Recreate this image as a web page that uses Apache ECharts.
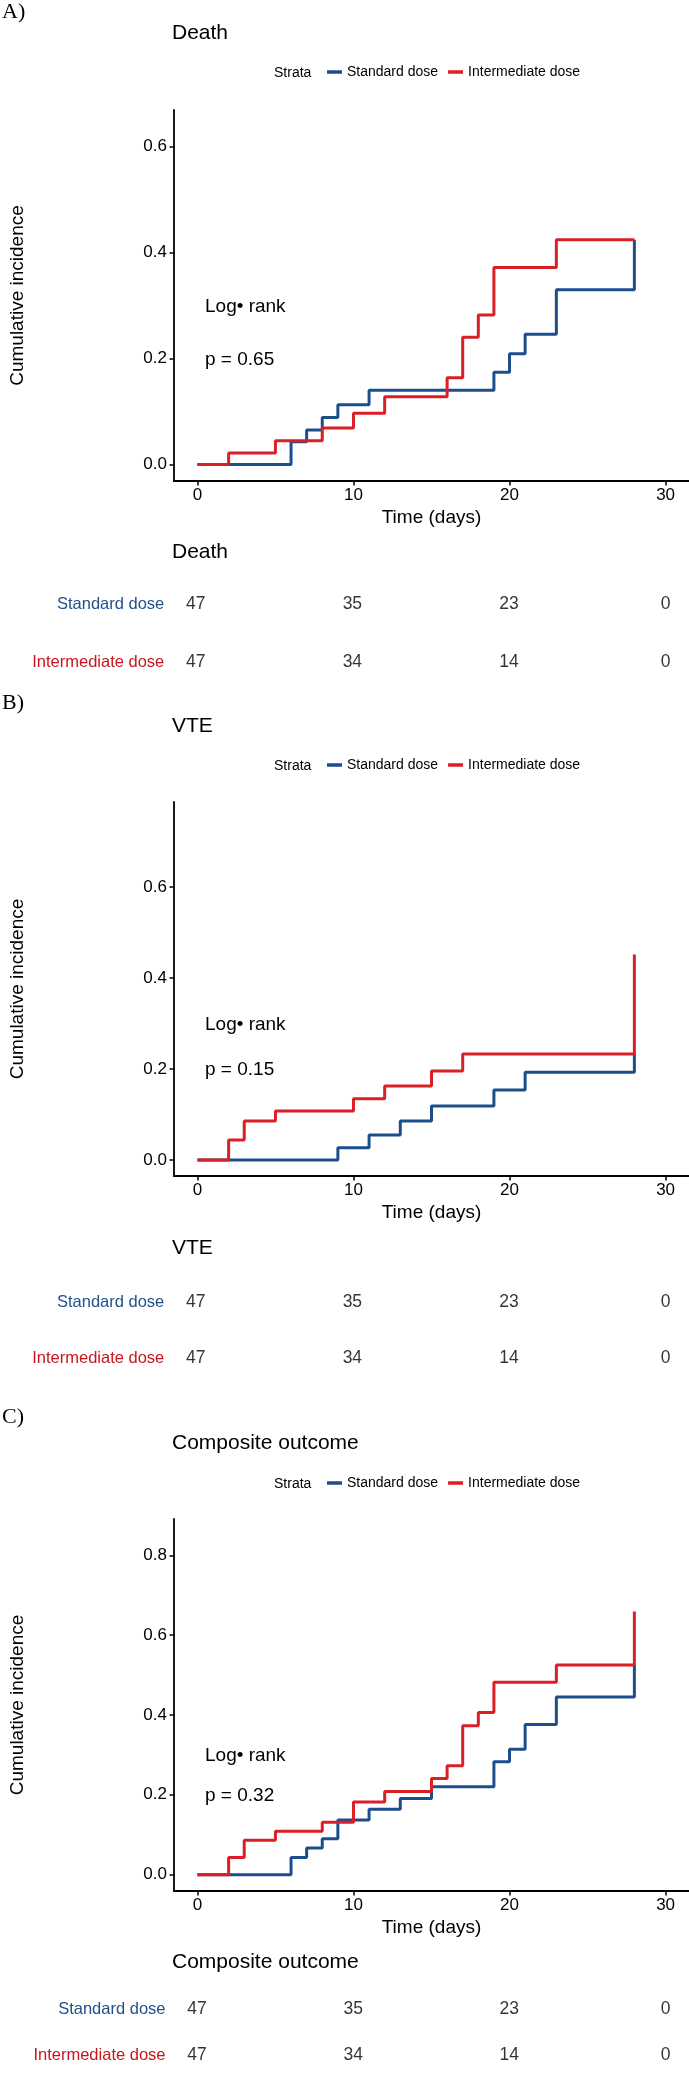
<!DOCTYPE html>
<html>
<head>
<meta charset="utf-8">
<script src="https://cdn.jsdelivr.net/npm/echarts@6/dist/echarts.min.js"></script>
<style>
html,body{margin:0;padding:0;background:#fff;}
#chart{width:689px;height:2078px;}
</style>
</head>
<body>
<div id="chart"></div>
<script>
// ---------- data ----------
const seriesNames = ['Standard dose', 'Intermediate dose'];
const xTicks = [0, 10, 20, 30];
const riskTimes = [0, 10, 20, 30];
const riskStandard = [47, 35, 23, 0];
const riskIntermediate = [47, 34, 14, 0];

// A) Death
const deathStdTime = [0, 6, 7, 8, 9, 11, 19, 20, 21, 23, 28];
const deathStdCI   = [0, 0.043, 0.065, 0.089, 0.113, 0.140, 0.174, 0.209, 0.246, 0.330, 0.424];
const deathIntTime = [0, 2, 5, 8, 10, 12, 16, 17, 18, 19, 23, 28];
const deathIntCI   = [0, 0.022, 0.045, 0.069, 0.097, 0.128, 0.164, 0.240, 0.282, 0.372, 0.424, 0.424];
const deathYTicks  = [0, 0.2, 0.4, 0.6];
const deathP = 'p = 0.65';

// B) VTE
const vteStdTime = [0, 9, 11, 13, 15, 19, 21, 28];
const vteStdCI   = [0, 0.027, 0.055, 0.086, 0.119, 0.154, 0.193, 0.233];
const vteIntTime = [0, 2, 3, 5, 10, 12, 15, 17, 28];
const vteIntCI   = [0, 0.044, 0.086, 0.108, 0.135, 0.163, 0.196, 0.233, 0.452];
const vteYTicks  = [0, 0.2, 0.4, 0.6];
const vteP = 'p = 0.15';

// C) Composite outcome
const compStdTime = [0, 6, 7, 8, 9, 11, 13, 15, 19, 20, 21, 23, 28];
const compStdCI   = [0, 0.043, 0.067, 0.090, 0.137, 0.164, 0.191, 0.220, 0.283, 0.314, 0.376, 0.445, 0.525];
const compIntTime = [0, 2, 3, 5, 8, 10, 12, 15, 16, 17, 18, 19, 23, 28];
const compIntCI   = [0, 0.043, 0.086, 0.109, 0.131, 0.182, 0.208, 0.241, 0.273, 0.373, 0.406, 0.482, 0.525, 0.659];
const compYTicks  = [0, 0.2, 0.4, 0.6, 0.8];
const compP = 'p = 0.32';

// ---------- layout / style ----------
const SANS = "'Liberation Sans', Arial, Helvetica, sans-serif";
const SERIF = "'Liberation Serif', 'Times New Roman', serif";
const BLUE = '#1D4E8C';
const RED = '#DA1F27';
const BLUE_TXT = '#22518C';
const RED_TXT = '#C8161E';

const panels = [
  { letter: 'A)', title: 'Death', std: [deathStdTime, deathStdCI], int: [deathIntTime, deathIntCI], yTicks: deathYTicks, p: deathP,
    L: { letterY: 12, titleY: 33, legendY: 73, top: 110, bottom: 481, yMin: -0.031, yMax: 0.669, left: 172.3, width: 517,
         lrY: 307, pY: 360, riskTitleY: 552, row1: 604, row2: 662 } },
  { letter: 'B)', title: 'VTE', std: [vteStdTime, vteStdCI], int: [vteIntTime, vteIntCI], yTicks: vteYTicks, p: vteP,
    L: { letterY: 703, titleY: 726, legendY: 766, top: 802, bottom: 1176, yMin: -0.035, yMax: 0.787, left: 172.3, width: 517,
         lrY: 1025, pY: 1070, riskTitleY: 1248, row1: 1302, row2: 1358 } },
  { letter: 'C)', title: 'Composite outcome', std: [compStdTime, compStdCI], int: [compIntTime, compIntCI], yTicks: compYTicks, p: compP,
    L: { letterY: 1417, titleY: 1443, legendY: 1484, top: 1519, bottom: 1891, yMin: -0.041, yMax: 0.891, left: 173.5, width: 516,
         lrY: 1756, pY: 1796, riskTitleY: 1962, row1: 2015, row2: 2072 } }
];

const grid = [], xAxis = [], yAxis = [], series = [], legend = [], graphic = [];

function txt(text, x, y, font, fill, align) {
  return { type: 'text', x: x, y: y, silent: true,
    style: { text: text, font: font, fill: fill || '#000', align: align || 'left', verticalAlign: 'middle',
             textAlign: align || 'left', textVerticalAlign: 'middle' } };
}

panels.forEach((P, k) => {
  const L = P.L;
  const gi = k * 2, ri = k * 2 + 1;
  grid.push({ left: L.left, top: L.top, width: L.width, height: L.bottom - L.top, containLabel: false });
  const gap = L.row2 - L.row1;
  grid.push({ left: L.left, top: L.row1 - gap / 2, width: L.width, height: gap * 2, containLabel: false });

  xAxis.push({
    type: 'value', gridIndex: gi, min: -1.5, max: 31.5,
    axisLine: { show: true, onZero: false, lineStyle: { color: '#000', width: 1.8 } },
    axisTick: { show: true, length: 4.5, customValues: xTicks, lineStyle: { color: '#000', width: 1.5 } },
    axisLabel: { customValues: xTicks, color: '#000', fontSize: 17, fontFamily: SANS, margin: 6 },
    splitLine: { show: false },
    name: 'Time (days)', nameLocation: 'middle', nameGap: 27,
    nameTextStyle: { color: '#000', fontSize: 19, fontFamily: SANS }
  });
  yAxis.push({
    type: 'value', gridIndex: gi, min: L.yMin, max: L.yMax,
    axisLine: { show: true, onZero: false, lineStyle: { color: '#000', width: 1.8 } },
    axisTick: { show: true, length: 4.5, customValues: P.yTicks, lineStyle: { color: '#000', width: 1.5 } },
    axisLabel: { customValues: P.yTicks, color: '#000', fontSize: 17, fontFamily: SANS, margin: 7,
                 formatter: v => Number(v).toFixed(1) },
    splitLine: { show: false },
    name: 'Cumulative incidence', nameLocation: 'middle', nameGap: 147, nameRotate: 90,
    nameTextStyle: { color: '#000', fontSize: 19, fontFamily: SANS }
  });
  xAxis.push({ type: 'value', gridIndex: ri, min: -1.5, max: 31.5, show: false });
  yAxis.push({
    type: 'category', gridIndex: ri, data: seriesNames, inverse: true,
    axisLine: { show: false }, axisTick: { show: false }, splitLine: { show: false },
    axisLabel: { fontSize: 16.5, fontFamily: SANS, margin: 8,
                 color: (v) => v === 'Standard dose' ? BLUE_TXT : RED_TXT }
  });

  series.push({
    name: 'Standard dose', type: 'line', step: 'end', xAxisIndex: gi, yAxisIndex: gi,
    symbol: 'none', silent: true,
    itemStyle: { color: BLUE }, lineStyle: { color: BLUE, width: 3 },
    data: P.std[0].map((t, i) => [t, P.std[1][i]])
  });
  series.push({
    name: 'Intermediate dose', type: 'line', step: 'end', xAxisIndex: gi, yAxisIndex: gi,
    symbol: 'none', silent: true,
    itemStyle: { color: RED }, lineStyle: { color: RED, width: 3 },
    data: P.int[0].map((t, i) => [t, P.int[1][i]])
  });
  const riskLabel = { show: true, position: 'inside', color: '#000', fontSize: 17.5, fontFamily: SANS,
                      formatter: p => String(p.value[2]) };
  series.push({
    name: 'risk-std-' + k, type: 'scatter', xAxisIndex: ri, yAxisIndex: ri, symbolSize: 1,
    itemStyle: { color: 'rgba(0,0,0,0)' }, label: riskLabel, silent: true,
    data: riskTimes.map((t, i) => [t, 'Standard dose', riskStandard[i]])
  });
  series.push({
    name: 'risk-int-' + k, type: 'scatter', xAxisIndex: ri, yAxisIndex: ri, symbolSize: 1,
    itemStyle: { color: 'rgba(0,0,0,0)' }, label: riskLabel, silent: true,
    data: riskTimes.map((t, i) => [t, 'Intermediate dose', riskIntermediate[i]])
  });

  legend.push({
    data: seriesNames, left: 327, top: L.legendY - 8, icon: 'rect', itemWidth: 15, itemHeight: 3.5,
    itemGap: 10, padding: 0, selectedMode: false,
    textStyle: { color: '#000', fontSize: 14, fontFamily: SANS }
  });

  graphic.push(txt(P.letter, 2, L.letterY, '22px ' + SERIF));
  graphic.push(txt(P.title, 172, L.titleY, '21px ' + SANS));
  graphic.push(txt('Strata', 274, L.legendY, '14px ' + SANS));
  graphic.push(txt('Log\u2022 rank', 205, L.lrY, '19px ' + SANS));
  graphic.push(txt(P.p, 205, L.pY, '19px ' + SANS));
  graphic.push(txt(P.title, 172, L.riskTitleY, '21px ' + SANS));
});

const chart = echarts.init(document.getElementById('chart'), null, { renderer: 'canvas' });
chart.setOption({
  animation: false,
  backgroundColor: '#fff',
  grid: grid, xAxis: xAxis, yAxis: yAxis, series: series, legend: legend, graphic: graphic
});
</script>
</body>
</html>
